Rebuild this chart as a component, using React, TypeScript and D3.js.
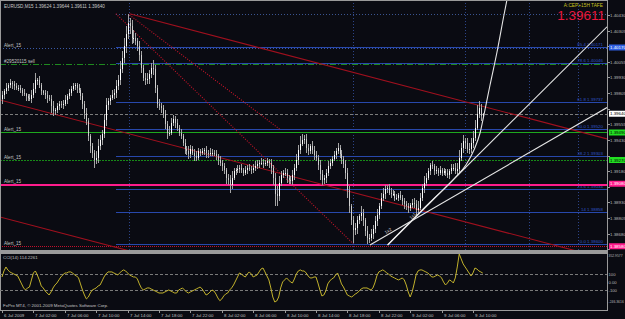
import React, { useRef, useEffect } from "react";
import * as d3 from "d3";

// EURUSD M15, 6-9 Jul 2009 (MT4 screenshot)
// one bar every 15 minutes, bar 0 = 6 Jul 22:00
const firstOpen = 1.3976;
const closes = [
  1.3979, 1.3982, 1.3985, 1.3987, 1.3989, 1.3988, 1.3986, 1.3985, 1.3985, 1.3983,
  1.3981, 1.398, 1.3978, 1.3977, 1.3976, 1.3979, 1.3984, 1.3991, 1.3991, 1.3987,
  1.3982, 1.3981, 1.3979, 1.3977, 1.3976, 1.397, 1.3966, 1.3967, 1.397, 1.3972,
  1.3971, 1.3972, 1.3975, 1.3978, 1.3981, 1.3984, 1.3986, 1.3987, 1.3985, 1.3983,
  1.3978, 1.3972, 1.3965, 1.3958, 1.3946, 1.3938, 1.3933, 1.3927, 1.3929, 1.3938,
  1.3943, 1.3948, 1.3959, 1.3971, 1.3974, 1.3977, 1.3979, 1.3981, 1.3986, 1.3991,
  1.4, 1.4009, 1.4018, 1.4028, 1.4037, 1.4034, 1.4025, 1.4025, 1.4022, 1.4018,
  1.4011, 1.4001, 1.3993, 1.3991, 1.3992, 1.3996, 1.4001, 1.4, 1.3985, 1.3972,
  1.397, 1.3969, 1.3964, 1.3956, 1.3949, 1.3949, 1.3957, 1.396, 1.3957, 1.3953,
  1.3949, 1.3946, 1.3941, 1.3936, 1.3934, 1.3932, 1.3936, 1.3933, 1.393, 1.3929,
  1.3934, 1.3933, 1.3934, 1.3935, 1.3933, 1.3932, 1.3933, 1.3933, 1.3932, 1.393,
  1.3927, 1.3925, 1.3922, 1.3919, 1.3913, 1.3911, 1.3907, 1.3913, 1.3918, 1.3919,
  1.392, 1.3921, 1.3919, 1.3917, 1.3919, 1.3921, 1.392, 1.3919, 1.3921, 1.3922,
  1.3924, 1.3925, 1.3925, 1.3924, 1.3925, 1.3926, 1.3925, 1.3921, 1.3913, 1.39,
  1.3898, 1.3909, 1.3915, 1.3917, 1.3917, 1.3913, 1.3911, 1.391, 1.3915, 1.3921,
  1.3927, 1.3935, 1.394, 1.3943, 1.3944, 1.3937, 1.3934, 1.3938, 1.3935, 1.3931,
  1.3929, 1.3923, 1.3916, 1.3911, 1.3913, 1.3917, 1.3922, 1.3925, 1.3928, 1.3931,
  1.3934, 1.3937, 1.3932, 1.3928, 1.3924, 1.3917, 1.3903, 1.389, 1.3879, 1.3871,
  1.3873, 1.3879, 1.3882, 1.3885, 1.3879, 1.387, 1.3865, 1.3865, 1.3868, 1.3872,
  1.3878, 1.3883, 1.389, 1.3897, 1.39, 1.3904, 1.3905, 1.3901, 1.39, 1.39,
  1.3897, 1.3897, 1.3899, 1.3897, 1.3894, 1.3892, 1.389, 1.3889, 1.3891, 1.3893,
  1.3892, 1.3887, 1.3889, 1.3897, 1.3905, 1.3909, 1.3913, 1.3918, 1.3923, 1.3922,
  1.3918, 1.3919, 1.3917, 1.3919, 1.3917, 1.3918, 1.3917, 1.3915, 1.3918, 1.3921,
  1.3921, 1.3918, 1.392, 1.3929, 1.3937, 1.3942, 1.3941, 1.3936, 1.3936, 1.3941,
  1.3945, 1.3953, 1.3964, 1.3969, 1.39624, 1.3964,
];
// wick lengths in pips above / below the body
const upWick = [
  3, 2, 4, 2, 3, 1, 2, 3, 2, 2, 2, 3, 1, 2, 3, 4, 5, 6, 2, 3,
  2, 1, 2, 3, 2, 3, 4, 2, 3, 2, 2, 3, 4, 2, 3, 2, 3, 2, 2, 3,
  2, 3, 2, 4, 3, 2, 3, 2, 5, 6, 4, 3, 5, 6, 3, 2, 4, 3, 5, 4,
  6, 5, 7, 6, 7, 4, 5, 6, 4, 3, 4, 3, 2, 4, 5, 3, 4, 6, 3, 2,
  4, 3, 2, 3, 2, 5, 4, 3, 2, 3, 2, 3, 2, 3, 2, 4, 3, 2, 3, 4,
  3, 2, 3, 2, 3, 2, 4, 3, 2, 3, 2, 3, 2, 3, 2, 3, 4, 5, 3, 2,
  3, 2, 3, 2, 3, 2, 3, 2, 3, 4, 3, 2, 4, 3, 2, 3, 2, 3, 2, 4,
  6, 5, 3, 2, 4, 3, 2, 3, 4, 3, 5, 4, 6, 5, 3, 4, 3, 2, 4, 3,
  3, 2, 4, 3, 2, 3, 4, 3, 2, 3, 3, 4, 2, 3, 2, 3, 4, 3, 2, 3,
  4, 3, 2, 5, 3, 2, 4, 3, 4, 3, 4, 5, 3, 4, 5, 3, 2, 3, 4, 3,
  2, 3, 2, 3, 2, 3, 2, 3, 2, 3, 4, 3, 5, 4, 3, 5, 4, 3, 2, 3,
  2, 3, 2, 3, 2, 3, 2, 3, 2, 3, 3, 4, 5, 6, 4, 5, 3, 4, 5, 4,
  5, 6, 7, 5, 3, 0.4,
];
const downWick = [
  4, 3, 2, 3, 2, 4, 3, 2, 3, 2, 3, 2, 4, 3, 2, 3, 2, 3, 4, 2,
  3, 2, 3, 4, 2, 5, 4, 3, 2, 3, 2, 3, 2, 3, 2, 3, 2, 3, 4, 2,
  3, 4, 5, 3, 4, 5, 4, 6, 3, 4, 3, 4, 3, 5, 4, 3, 2, 3, 4, 3,
  4, 3, 4, 5, 4, 6, 5, 4, 3, 4, 5, 4, 3, 4, 3, 4, 3, 5, 4, 3,
  3, 4, 3, 4, 5, 3, 2, 3, 4, 3, 3, 2, 3, 4, 3, 4, 3, 2, 4, 3,
  2, 3, 2, 3, 4, 3, 2, 3, 2, 3, 4, 3, 4, 3, 5, 4, 6, 3, 2, 3,
  2, 3, 2, 3, 2, 3, 2, 3, 2, 3, 2, 3, 2, 3, 2, 3, 4, 5, 6, 10,
  8, 4, 3, 2, 3, 4, 3, 2, 3, 4, 3, 4, 3, 2, 3, 4, 3, 2, 3, 4,
  3, 4, 5, 4, 3, 4, 3, 2, 3, 2, 3, 2, 3, 4, 3, 5, 6, 5, 4, 10,
  4, 5, 3, 4, 5, 4, 5, 4, 3, 4, 3, 4, 3, 2, 3, 4, 3, 2, 3, 2,
  3, 2, 3, 2, 3, 4, 3, 4, 3, 2, 3, 4, 3, 2, 3, 4, 3, 2, 3, 2,
  3, 2, 3, 2, 3, 2, 3, 2, 3, 2, 3, 2, 3, 4, 3, 4, 5, 3, 4, 3,
  4, 3, 2, 3, 4, 1.3,
];
const cci = [
  66, 141, 191, 153, 129, 116, 104, 91, 79, 29, -21, -71, -96, -71, -59, 29, 116, 141, 91, 29,
  -46, -71, -109, -134, -159, -121, -71, -34, -9, 29, 66, 91, 116, 116, 129, 129, 116, 91, 79, 54,
  -21, -96, -159, -208, -184, -134, -96, -84, -71, -46, -34, 16, 66, 104, 129, 129, 129, 116, 104, 91,
  116, 141, 154, 141, 116, 91, 79, 66, 66, 41, -21, -71, -96, -84, -71, -71, -84, -96, -109, -121,
  -134, -134, -134, -121, -109, -96, -109, -121, -134, -134, -96, -84, -71, -96, -121, -134, -121, -109, -96, -84,
  -71, -59, -84, -121, -159, -146, -121, -96, -109, -146, -196, -230, -209, -171, -146, -134, -96, -71, -34, 16,
  66, 116, 104, 79, 66, 104, 129, 104, 66, 79, 91, 129, 166, 178, 129, 79, 29, -71, -184, -246.3616,
  -234, -184, -71, 4, 29, 54, 29, 4, -9, 41, 104, 141, 154, 141, 141, 116, 79, 54, 54, 66,
  66, -9, -96, -171, -159, -109, -21, 16, 41, 54, 91, 116, 54, -21, -59, -109, -159, -171, -184, -171,
  -146, -134, -109, -84, -71, -71, -71, -84, -96, -71, -9, 79, 129, 141, 154, 141, 116, 104, 79, 66,
  54, 41, 29, 41, 54, 29, -34, -121, -184, -121, -21, 91, 141, 154, 154, 141, 129, 116, 91, 66,
  66, 79, 91, 79, 54, 4, -34, -9, 29, 16, -9, 54, 191, 352.9577, 291, 229, 191, 154, 116, 79,
  116, 178, 166, 141, 129, 114.2261,
];

const timeLabels = [
  "6 Jul 2009", "7 Jul 02:00", "7 Jul 06:00", "7 Jul 10:00", "7 Jul 14:00", "7 Jul 18:00",
  "7 Jul 22:00", "8 Jul 02:00", "8 Jul 06:00", "8 Jul 10:00", "8 Jul 14:00", "8 Jul 18:00",
  "8 Jul 22:00", "9 Jul 02:00", "9 Jul 06:00", "9 Jul 10:00",
];
const timeLabelBars = [0, 16, 32, 48, 64, 80, 96, 112, 128, 144, 160, 176, 192, 208, 224, 240];
const priceTicks = [
  1.4043, 1.40305, 1.4018, 1.40055, 1.3993, 1.39805, 1.3968, 1.39555, 1.3943, 1.39305,
  1.3918, 1.39055, 1.3893, 1.38805, 1.3868, 1.38555,
];
const cciTicks = [352.9577, 100, 0, -100, -246.3616];
const cciTickNames = ["352.9577", "100", "0.00", "-100", "-246.3616"];

// horizontal alert / order lines
const alertPrices = [1.4017, 1.4004, 1.3949, 1.3927, 1.3908, 1.3858];
const alertNames = ["Alert_15", "#29520115 sell", "Alert_15", "Alert_15", "Alert_15", "Alert_15"];
const bidPrice = 1.3964;
const bigQuote = "1.39611";

// fibo retracement (anchors: bar, price)
const fibHigh = [58, 1.4044];
const fibLow = [179, 1.386];
const fibLevels = [0, 14, 23.6, 38.2, 50, 61.8, 78.6, 85.4, 100];
const fibLevelNames = ["0.0", "14", "23.6", "38.2", "50.0", "61.8", "78.6", "85.4", "100.0"];

// trend channel (three parallel lines) and dotted lines
const channelA = [[65, 1.4044], [240, 1.3972]];
const channelB = [[0, 1.39746], [240, 1.38759]];
const channelC = [[0, 1.3881], [240, 1.37823]];
const dottedA = [[58, 1.4044], [179, 1.386]];
const dottedB = [[65, 1.4043], [142, 1.3951]];

// gann fan style white lines
const gannLow = [[187.5, 1.3859], [308.3, 1.3969]];
const gannMid = [[196.5, 1.3859], [307.3, 1.4032]];
const gannNames = ["1x2", "1x1"];
const steepCurve = [
  [196.5, 1.3859], [218, 1.3893], [230.8, 1.39126], [236.4, 1.3923], [240.5, 1.3935],
  [243.6, 1.39486], [246.1, 1.3967], [248.7, 1.3987], [252.2, 1.4013], [255.8, 1.4043], [257.8, 1.4059],
];
const timeZoneBars = [64.7, 179, 236, 268.5, 293.5];

const W = 625;
const H = 319;
const BG = "#0a0b12";
const FONT = "'Liberation Sans', Arial, sans-serif";

const App = () => {
  const ref = useRef<SVGSVGElement>(null);

  useEffect(() => {
    const root = d3.select(ref.current);
    root.selectAll("*").remove();

    const plotR = 607, mainB = 250, indT = 253, indB = 310;
    const x = d3.scaleLinear().domain([0, 308.3]).range([2, plotR]);
    const y = d3.scaleLinear().domain([1.3855, 1.4055]).range([mainB, 0]);
    const yc = d3.scaleLinear().domain([-246.3616, 352.9577]).range([302, 254]);
    const lastBar = x.domain()[1];

    root.append("rect").attr("width", W).attr("height", H).attr("fill", BG);

    const defs = root.append("defs");
    defs.append("clipPath").attr("id", "clipMain")
      .append("rect").attr("x", 0).attr("y", 0).attr("width", plotR).attr("height", mainB);
    defs.append("clipPath").attr("id", "clipInd")
      .append("rect").attr("x", 0).attr("y", indT).attr("width", plotR).attr("height", indB - indT);

    const main = root.append("g").attr("clip-path", "url(#clipMain)");
    const hline = (g, p, x0, col, dash, w = 1) =>
      g.append("line")
        .attr("x1", x0).attr("x2", plotR)
        .attr("y1", Math.round(y(p)) + 0.5).attr("y2", Math.round(y(p)) + 0.5)
        .attr("stroke", col).attr("stroke-width", w)
        .attr("stroke-dasharray", dash).attr("shape-rendering", "crispEdges");
    const text = (g, tx, ty, s, col, size = 4.6, anchor = "start") =>
      g.append("text").attr("x", tx).attr("y", ty).attr("fill", col)
        .attr("font-size", size).attr("font-family", FONT).attr("text-anchor", anchor).text(s);
    const priceAt = (a, t) => a[0][1] + ((a[1][1] - a[0][1]) * (t - a[0][0])) / (a[1][0] - a[0][0]);
    const ray = (a, from, to, col, dash, w = 1) =>
      main.append("line")
        .attr("x1", x(from)).attr("y1", y(priceAt(a, from)))
        .attr("x2", x(to)).attr("y2", y(priceAt(a, to)))
        .attr("stroke", col).attr("stroke-width", w).attr("stroke-dasharray", dash);

    // time zone verticals
    timeZoneBars.forEach((b) => {
      main.append("line")
        .attr("x1", Math.round(x(b)) + 0.5).attr("x2", Math.round(x(b)) + 0.5)
        .attr("y1", 0).attr("y2", mainB)
        .attr("stroke", "#2c4488").attr("stroke-dasharray", "1,2");
    });

    // fibo levels
    const fibRange = fibHigh[1] - fibLow[1];
    fibLevels.forEach((lv, i) => {
      const p = fibLow[1] + (fibRange * lv) / 100;
      if (lv === 100) hline(main, p, x(fibHigh[0]), "#3a5490", "1,2");
      else hline(main, p, x(fibHigh[0]), "#2848ac", null);
      if (lv !== 100)
        text(main, 603, Math.round(y(p)) - 1, `${fibLevelNames[i]}    ${p.toFixed(5)}`, "#2f55c8", 4.4, "end");
    });

    // alert / order lines
    const alertStyle = [
      { col: "#3a5aa8", dash: "1,2", w: 1 },
      { col: "#1f8a1f", dash: "6,2,1,2", w: 1 },
      { col: "#1ea81e", dash: null, w: 1 },
      { col: "#178a17", dash: "2,1", w: 1.2 },
      { col: "#ff1c8c", dash: null, w: 2 },
      { col: "#c0102c", dash: "1,1", w: 1.2 },
    ];
    alertPrices.forEach((p, i) => {
      const s = alertStyle[i];
      hline(main, p, 0, s.col, s.dash, s.w);
    });
    hline(main, bidPrice, 0, "#7c7c7c", "3,2");

    // channel + dotted lines
    ray(channelA, channelA[0][0], lastBar, "#a0101e", null, 1.1);
    ray(channelB, -2, lastBar, "#a0101e", null, 1.1);
    ray(channelC, -2, lastBar, "#a0101e", null, 1.1);
    ray(dottedA, dottedA[0][0], dottedA[1][0], "#c8142a", "1,1.5", 1.1);
    ray(dottedB, dottedB[0][0], dottedB[1][0], "#c8142a", "1,1.5", 1.1);

    // candles
    const opens = closes.map((c, i) => (i === 0 ? firstOpen : closes[i - 1]));
    const cg = main.append("g").attr("shape-rendering", "crispEdges");
    closes.forEach((c, i) => {
      const o = opens[i];
      const hi = Math.max(o, c) + upWick[i] * 0.0001;
      const lo = Math.min(o, c) - downWick[i] * 0.0001;
      const cx = Math.round(x(i)) + 0.5;
      cg.append("line").attr("x1", cx).attr("x2", cx)
        .attr("y1", y(hi)).attr("y2", y(lo)).attr("stroke", "#a4a4a4");
      const top = Math.min(y(o), y(c));
      const h = Math.max(1, Math.abs(y(o) - y(c)));
      cg.append("rect").attr("x", cx - 0.5).attr("y", top).attr("width", 1).attr("height", h)
        .attr("fill", c >= o ? "#ffffff" : "#cfcfcf");
    });

    // white lines
    ray(gannLow, gannLow[0][0], lastBar, "#e6e6e6", null, 1.1);
    ray(gannMid, gannMid[0][0], lastBar, "#e6e6e6", null, 1.1);
    main.append("path")
      .datum(steepCurve)
      .attr("d", d3.line().x((d) => x(d[0])).y((d) => y(d[1])).curve(d3.curveMonotoneX))
      .attr("fill", "none").attr("stroke", "#e6e6e6").attr("stroke-width", 1.1);
    [gannLow, gannMid].forEach((g, i) => {
      const b0 = g[0][0] + 8 + i * 4;
      const px = x(b0), py = y(priceAt(g, b0));
      const ang = (Math.atan2(y(g[1][1]) - y(g[0][1]), x(g[1][0]) - x(g[0][0])) * 180) / Math.PI;
      main.append("text").attr("transform", `translate(${px},${py - 2}) rotate(${ang})`)
        .attr("fill", "#d8d8d8").attr("font-size", 4.4).attr("font-family", FONT).text(gannNames[i]);
    });

    // labels on the chart
    alertPrices.forEach((p, i) => text(root, 4, Math.round(y(p)) - 1, alertNames[i], "#c4c4c4"));
    const o = opens[opens.length - 1], c = closes[closes.length - 1];
    const hiL = Math.max(o, c) + upWick[upWick.length - 1] * 0.0001;
    const loL = Math.min(o, c) - downWick[downWick.length - 1] * 0.0001;
    text(root, 4, 8, `EURUSD,M15   ${o.toFixed(5)} ${hiL.toFixed(5)} ${loL.toFixed(5)} ${c.toFixed(5)}`, "#c8c8c8");
    text(root, 603, 7, "A:CEP+15H TAFE", "#c8c020", 4.8, "end");
    text(root, 605, 20, bigQuote, "#e8173c", 13.5, "end");

    // frame
    const frame = root.append("g").attr("shape-rendering", "crispEdges").attr("fill", "none");
    frame.append("rect").attr("x", 0.5).attr("y", 0.5).attr("width", plotR).attr("height", mainB)
      .attr("stroke", "#9a9a9a");
    frame.append("rect").attr("x", 0).attr("y", mainB + 1).attr("width", plotR + 1).attr("height", 2)
      .attr("fill", "#9a9a9a");
    frame.append("rect").attr("x", 0.5).attr("y", indT + 0.5).attr("width", plotR).attr("height", indB - indT)
      .attr("stroke", "#9a9a9a");

    // price axis (colored boxes hide the ticks they cover)
    const boxes = [
      { p: alertPrices[0], fill: "#2e5ee0", col: "#ffffff" },
      { p: bidPrice, fill: "#ffffff", col: "#000000" },
      { p: alertPrices[2], fill: "#22e022", col: "#000000" },
      { p: alertPrices[3], fill: "#22e022", col: "#000000" },
      { p: alertPrices[4], fill: "#ff1c8c", col: "#ffffff" },
      { p: alertPrices[5], fill: "#ff1c8c", col: "#ffffff" },
    ];
    priceTicks.forEach((p) => {
      const ty = Math.round(y(p)) + 0.5;
      root.append("line").attr("x1", plotR).attr("x2", plotR + 3).attr("y1", ty).attr("y2", ty)
        .attr("stroke", "#9a9a9a");
      if (boxes.some((b) => Math.abs(y(b.p) - ty) < 6)) return;
      text(root, 610, ty + 1.6, p.toFixed(5), "#b8b8b8", 4.4);
    });
    boxes.forEach((b) => {
      const ty = y(b.p);
      root.append("rect").attr("x", plotR + 2).attr("y", ty - 3).attr("width", W - plotR - 2).attr("height", 6)
        .attr("fill", b.fill);
      text(root, 610, ty + 1.6, b.p.toFixed(5), b.col, 4.4);
    });

    // CCI panel
    const ind = root.append("g").attr("clip-path", "url(#clipInd)");
    [100, -100].forEach((lv) => {
      const ty = Math.round(yc(lv)) + 0.5;
      ind.append("line").attr("x1", 0).attr("x2", plotR).attr("y1", ty).attr("y2", ty)
        .attr("stroke", "#7a7a7a").attr("stroke-dasharray", "3,2");
    });
    ind.append("path")
      .datum(cci)
      .attr("d", d3.line<number>().x((d, i) => x(i)).y((d) => yc(d)))
      .attr("fill", "none").attr("stroke", "#c2b22c").attr("stroke-width", 1);
    text(root, 3, 259, `CCI(14) ${cci[cci.length - 1].toFixed(4)}`, "#c4c4c4", 4.4);
    text(root, 3, 307, "FxPro MT4, © 2001-2009 MetaQuotes Software Corp.", "#c4c4c4", 4.4);
    cciTicks.forEach((v, i) => {
      const ty = Math.min(Math.max(yc(v), 256), 304);
      text(root, 608.5, ty + 1.4, cciTickNames[i], "#b8b8b8", cciTickNames[i].length > 5 ? 3.4 : 4.2);
    });

    // time axis
    timeLabels.forEach((s, i) => {
      const tx = Math.round(x(timeLabelBars[i])) + 0.5;
      root.append("line").attr("x1", tx).attr("x2", tx).attr("y1", indB).attr("y2", indB + 3)
        .attr("stroke", "#9a9a9a");
      text(root, tx + 1.5, 316.5, s, "#c0c0c0", 4.4);
    });
  }, []);

  return (
    <svg
      ref={ref}
      width={W}
      height={H}
      style={{ position: "absolute", left: 0, top: 0, display: "block" }}
    />
  );
};

export default App;
